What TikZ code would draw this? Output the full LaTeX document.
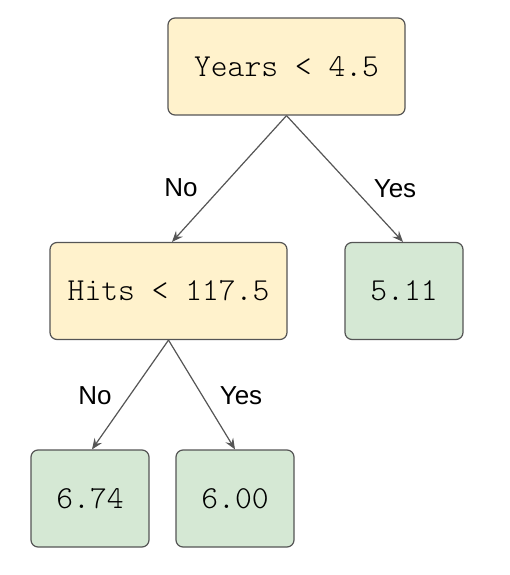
\documentclass[tikz,border=0pt]{standalone}
\usepackage{fontspec}
\setmainfont{Liberation Sans}
\newfontfamily\lightmono{Latin Modern Mono Light}
\usetikzlibrary{arrows.meta}
\definecolor{yel}{HTML}{FFF2CC}
\definecolor{grn}{HTML}{D5E8D4}
\definecolor{edge}{HTML}{555555}
\tikzset{
  x=1pt,y=-1pt,
  box/.style={draw=edge,line width=1.2pt,rounded corners=7pt,inner sep=0pt,
    font=\lightmono\fontsize{32}{32}\selectfont},
  cond/.style={box,fill=yel,minimum width=237pt,minimum height=97pt},
  leaf/.style={box,fill=grn,minimum width=118pt,minimum height=97pt},
  conn/.style={draw=edge,line width=1.2pt,-{Stealth[length=11pt,width=9pt,inset=4pt]}},
  lab/.style={font=\fontsize{26}{26}\selectfont,inner sep=0pt}
}
\begin{document}
\begin{tikzpicture}
\useasboundingbox (0,0) rectangle (509,575);
\node[cond] (root) at (286.5,66.5) {Years < 4.5};
\node[cond] (hits) at (168.5,291) {Hits < 117.5};
\node[leaf] (l511) at (404,291) {5.11};
\node[leaf] (l674) at (90,498.5) {6.74};
\node[leaf] (l600) at (235,498.5) {6.00};
\draw[conn] (root.south) -- (hits.north -| 172,0);
\draw[conn] (root.south) -- (l511.north -| 403,0);
\draw[conn] (hits.south) -- (l674.north -| 92,0);
\draw[conn] (hits.south) -- (l600.north -| 235,0);
\node[lab] (no1) at (181,188) {No};
\node[lab] (yes1) at (395,189) {Yes};
\node[lab] (no2) at (95,396) {No};
\node[lab] (yes2) at (241,396) {Yes};
\end{tikzpicture}
\end{document}
